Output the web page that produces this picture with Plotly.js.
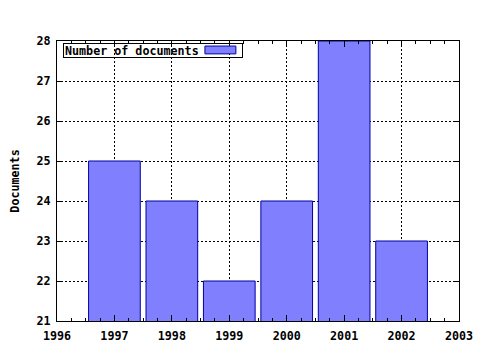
<!DOCTYPE html>
<html>
<head>
<meta charset="utf-8">
<script src="https://cdn.plot.ly/plotly-3.0.1.min.js"></script>
<style>html,body{margin:0;padding:0;background:#fff}#chart{width:480px;height:350px}</style>
</head>
<body>
<div id="chart"></div>
<script>
const years = [1997, 1998, 1999, 2000, 2001, 2002];
const documents = [25, 24, 22, 24, 28, 23];
const seriesName = "Number of documents";
const yTitle = "Documents";

const fnt = {family: "DejaVu Sans Mono, monospace", size: 11.7, color: "#000", weight: "bold"};

const trace = {
  type: "bar",
  x: years,
  y: documents,
  width: 0.9,
  name: seriesName,
  marker: {color: "#8080ff", line: {color: "#0000a0", width: 1}},
  showlegend: false
};

const axisCommon = {
  showline: true, linecolor: "#000", linewidth: 1, mirror: "ticks",
  ticks: "inside", ticklen: 6, tickcolor: "#000", tickwidth: 1,
  showgrid: true, gridcolor: "#000", griddash: "2px,2px", gridwidth: 1,
  zeroline: false, tickfont: fnt, fixedrange: true
};

const layout = {
  width: 480, height: 350,
  margin: {l: 57, r: 21, t: 41, b: 29},
  paper_bgcolor: "#fff", plot_bgcolor: "#fff",
  font: fnt,
  bargap: 0,
  xaxis: Object.assign({}, axisCommon, {
    range: [1996, 2003], tickmode: "linear", tick0: 1996, dtick: 1,
    ticklabelstandoff: 4,
    minor: {dtick: 0.25, tick0: 1996, ticks: "inside", ticklen: 3, tickcolor: "#000", showgrid: false}
  }),
  yaxis: Object.assign({}, axisCommon, {
    range: [21, 28], tickmode: "linear", tick0: 21, dtick: 1,
    ticklabelstandoff: 3,
    title: {text: yTitle, font: fnt, standoff: 14}
  }),
  showlegend: false,
  annotations: [{
    xref: "paper", yref: "paper", x: 0.015, y: 0.993, xanchor: "left", yanchor: "top",
    text: seriesName, showarrow: false, font: fnt, width: 176, height: 11,
    bordercolor: "#000", borderwidth: 1, borderpad: 1, align: "left", valign: "middle"
  }],
  shapes: [{
    type: "rect", xref: "paper", yref: "paper",
    x0: 0.368, x1: 0.445, y0: 0.954, y1: 0.982,
    fillcolor: "#8080ff", line: {color: "#0000a0", width: 1}
  }]
};

Plotly.newPlot("chart", [trace], layout, {displayModeBar: false, staticPlot: true});
</script>
</body>
</html>
